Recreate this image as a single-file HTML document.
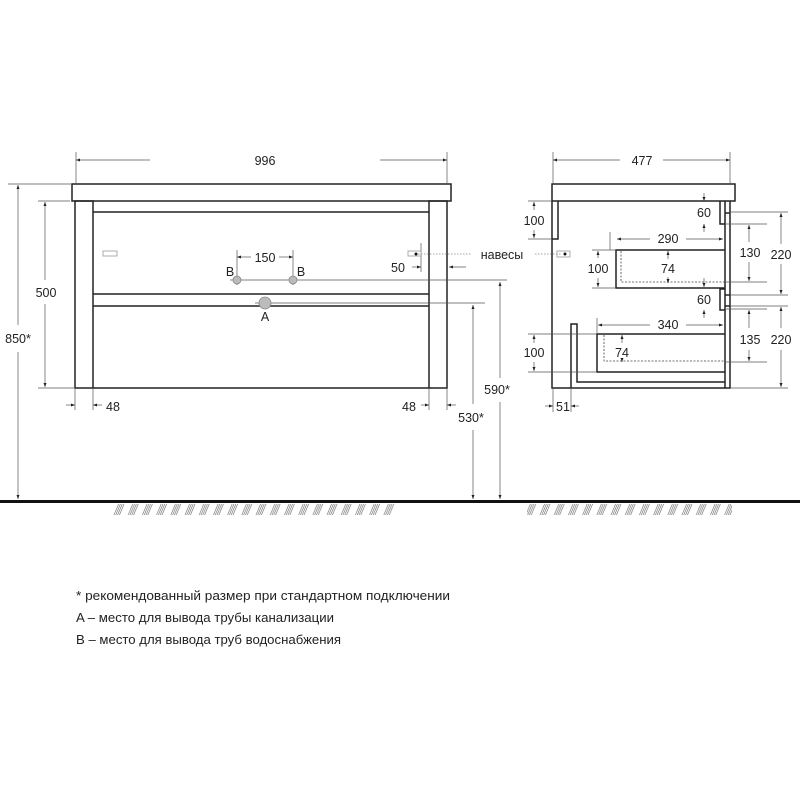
<!DOCTYPE html>
<html><head><meta charset="utf-8"><style>
html,body{margin:0;padding:0;background:#fff;}
svg{display:block;}
text{font-family:"Liberation Sans",sans-serif;font-size:12.5px;fill:#222;}
</style></head><body>
<svg width="800" height="800" viewBox="0 0 800 800" xmlns="http://www.w3.org/2000/svg">
<defs>
<marker id="a" viewBox="0 0 8 6" refX="8" refY="3" markerWidth="6" markerHeight="5" orient="auto-start-reverse"><path d="M0,0 L8,3 L0,6 z" fill="#222"/></marker>
<pattern id="h" width="14.2" height="12" patternUnits="userSpaceOnUse">
<g stroke="#666" stroke-width="0.6"><line x1="0" y1="12" x2="5" y2="0"/><line x1="1.8" y1="12" x2="6.8" y2="0"/><line x1="3.6" y1="12" x2="8.6" y2="0"/><line x1="5.4" y1="12" x2="10.4" y2="0"/></g>
</pattern>
</defs>

<!-- ground -->
<rect x="0" y="500" width="800" height="3" fill="#111"/>
<rect x="112" y="504" width="284" height="11" fill="url(#h)"/>
<rect x="527" y="504" width="205" height="11" fill="url(#h)"/>

<g fill="none" stroke="#222" stroke-width="1.5">
<!-- front view -->
<rect x="72" y="184" width="379" height="17"/>
<rect x="75" y="201" width="18" height="187"/>
<rect x="429" y="201" width="18" height="187"/>
<line x1="93" y1="212" x2="429" y2="212"/>
<line x1="93" y1="294" x2="429" y2="294"/>
<line x1="93" y1="306" x2="429" y2="306"/>
<line x1="93" y1="388" x2="429" y2="388"/>
<!-- side view -->
<rect x="552" y="184" width="183" height="17"/>
<polyline points="552,201 552,388 730,388 730,201"/>
<line x1="725" y1="201" x2="725" y2="388"/>
<polyline points="552,239 558,239 558,201"/>
<polyline points="725,224 720,224 720,201"/>
<polyline points="725,289 720,289 720,310 725,310"/>
<line x1="725" y1="213" x2="730" y2="213"/>
<line x1="725" y1="295" x2="730" y2="295"/>
<line x1="725" y1="306" x2="730" y2="306"/>
<polyline points="725,250 616,250 616,288 725,288"/>
<polyline points="725,334 597,334 597,372 725,372"/>
<polyline points="725,382 577,382 577,324 571,324 571,388"/>
</g>
<g fill="none" stroke="#444" stroke-width="0.8" stroke-dasharray="2,1.5">
<polyline points="621,251 621,282 725,282"/>
<polyline points="604,335 604,361 725,361"/>
</g>

<g stroke="#555" stroke-width="0.7" fill="none">
<line x1="76" y1="152" x2="76" y2="184"/><line x1="447" y1="152" x2="447" y2="184"/>
<line x1="8" y1="184" x2="72" y2="184"/>
<line x1="38" y1="201" x2="70" y2="201"/><line x1="38" y1="388" x2="75" y2="388"/>
<line x1="75" y1="388" x2="75" y2="410"/><line x1="93" y1="388" x2="93" y2="410"/>
<line x1="429" y1="388" x2="429" y2="410"/><line x1="447" y1="388" x2="447" y2="410"/>
<line x1="237" y1="250" x2="237" y2="285"/><line x1="293" y1="250" x2="293" y2="285"/>
<line x1="230" y1="280" x2="507" y2="280"/>
<line x1="255" y1="303" x2="485" y2="303"/>
<line x1="421" y1="243" x2="421" y2="272"/>
<line x1="553" y1="152" x2="553" y2="184"/><line x1="730" y1="152" x2="730" y2="184"/>
<line x1="528" y1="201" x2="552" y2="201"/><line x1="528" y1="239" x2="552" y2="239"/>
<line x1="610" y1="232" x2="610" y2="250"/>
<line x1="592" y1="250" x2="616" y2="250"/><line x1="592" y1="288" x2="616" y2="288"/>
<line x1="725" y1="224" x2="767" y2="224"/><line x1="725" y1="282" x2="767" y2="282"/>
<line x1="730" y1="212" x2="788" y2="212"/><line x1="730" y1="295" x2="788" y2="295"/>
<line x1="730" y1="306" x2="788" y2="306"/><line x1="730" y1="388" x2="788" y2="388"/>
<line x1="725" y1="309" x2="767" y2="309"/><line x1="725" y1="362" x2="767" y2="362"/>
<line x1="597" y1="318" x2="597" y2="334"/>
<line x1="528" y1="334" x2="597" y2="334"/><line x1="528" y1="372" x2="597" y2="372"/>
<line x1="553" y1="388" x2="553" y2="412"/><line x1="571" y1="388" x2="571" y2="412"/>
</g>
<g stroke="#555" stroke-width="0.7" fill="none" marker-end="url(#a)">
<line x1="150" y1="160" x2="76" y2="160"/><line x1="380" y1="160" x2="447" y2="160"/>
<line x1="18" y1="325" x2="18" y2="185"/><line x1="18" y1="352" x2="18" y2="499"/>
<line x1="45" y1="280" x2="45" y2="202"/><line x1="45" y1="304" x2="45" y2="387"/>
<line x1="66" y1="405" x2="75" y2="405"/><line x1="102" y1="405" x2="93" y2="405"/>
<line x1="421" y1="405" x2="429" y2="405"/><line x1="456" y1="405" x2="447" y2="405"/>
<line x1="251" y1="257" x2="237" y2="257"/><line x1="279" y1="257" x2="293" y2="257"/>
<line x1="412" y1="267" x2="421" y2="267"/><line x1="466" y1="267" x2="449" y2="267"/>
<line x1="500" y1="378" x2="500" y2="282"/><line x1="500" y1="402" x2="500" y2="499"/>
<line x1="473" y1="404" x2="473" y2="305"/><line x1="473" y1="430" x2="473" y2="499"/>
<line x1="620" y1="160" x2="553" y2="160"/><line x1="663" y1="160" x2="730" y2="160"/>
<line x1="534" y1="210" x2="534" y2="202"/><line x1="534" y1="230" x2="534" y2="238"/>
<line x1="650" y1="239" x2="617" y2="239"/><line x1="686" y1="239" x2="723" y2="239"/>
<line x1="598" y1="258" x2="598" y2="251"/><line x1="598" y1="278" x2="598" y2="287"/>
<line x1="668" y1="259" x2="668" y2="251"/><line x1="668" y1="277" x2="668" y2="283"/>
<line x1="704" y1="193" x2="704" y2="201"/><line x1="704" y1="232" x2="704" y2="224"/>
<line x1="704" y1="278" x2="704" y2="287"/><line x1="704" y1="318" x2="704" y2="310"/>
<line x1="749" y1="242" x2="749" y2="225"/><line x1="749" y1="262" x2="749" y2="281"/>
<line x1="781" y1="244" x2="781" y2="213"/><line x1="781" y1="264" x2="781" y2="294"/>
<line x1="781" y1="328" x2="781" y2="307"/><line x1="781" y1="350" x2="781" y2="387"/>
<line x1="650" y1="325" x2="598" y2="325"/><line x1="686" y1="325" x2="723" y2="325"/>
<line x1="622" y1="343" x2="622" y2="335"/><line x1="622" y1="360" x2="622" y2="362"/>
<line x1="749" y1="328" x2="749" y2="310"/><line x1="749" y1="350" x2="749" y2="361"/>
<line x1="534" y1="343" x2="534" y2="335"/><line x1="534" y1="362" x2="534" y2="371"/>
<line x1="545" y1="406" x2="553" y2="406"/><line x1="579" y1="406" x2="571" y2="406"/>
</g>
<g fill="#fff" stroke="#999" stroke-width="0.8">
<rect x="103" y="251" width="14" height="5"/><rect x="408" y="251" width="13" height="5"/>
<rect x="557" y="251" width="13" height="6"/>
</g>
<circle cx="416" cy="254" r="1.5" fill="#111"/><circle cx="565" cy="254" r="1.5" fill="#111"/>
<g stroke="#888" stroke-width="0.7" stroke-dasharray="1.5,1.5">
<line x1="418" y1="254" x2="472" y2="254"/><line x1="535" y1="254" x2="562" y2="254"/>
</g>
<g fill="#bbb" stroke="#888" stroke-width="0.8">
<circle cx="237" cy="280" r="4"/><circle cx="293" cy="280" r="4"/><circle cx="265" cy="303" r="6"/>
</g>

<g text-anchor="middle">
<text x="265" y="165">996</text>
<text x="18" y="343">850*</text>
<text x="46" y="297">500</text>
<text x="113" y="411">48</text>
<text x="409" y="411">48</text>
<text x="265" y="262">150</text>
<text x="230" y="276">B</text><text x="301" y="276">B</text>
<text x="265" y="321">A</text>
<text x="398" y="272">50</text>
<text x="502" y="259">навесы</text>
<text x="497" y="394">590*</text>
<text x="471" y="422">530*</text>
<text x="642" y="165">477</text>
<text x="534" y="225">100</text>
<text x="668" y="243">290</text>
<text x="598" y="273">100</text>
<text x="668" y="273">74</text>
<text x="704" y="217">60</text>
<text x="704" y="304">60</text>
<text x="750" y="257">130</text>
<text x="781" y="259">220</text>
<text x="668" y="329">340</text>
<text x="622" y="357">74</text>
<text x="750" y="344">135</text>
<text x="781" y="344">220</text>
<text x="534" y="357">100</text>
<text x="563" y="411">51</text>
</g>
<text x="76" y="600" textLength="374" lengthAdjust="spacingAndGlyphs">* рекомендованный размер при стандартном подключении</text>
<text x="76" y="622" textLength="258" lengthAdjust="spacingAndGlyphs">A – место для вывода трубы канализации</text>
<text x="76" y="644" textLength="265" lengthAdjust="spacingAndGlyphs">B – место для вывода труб водоснабжения</text>
</svg>
</body></html>
